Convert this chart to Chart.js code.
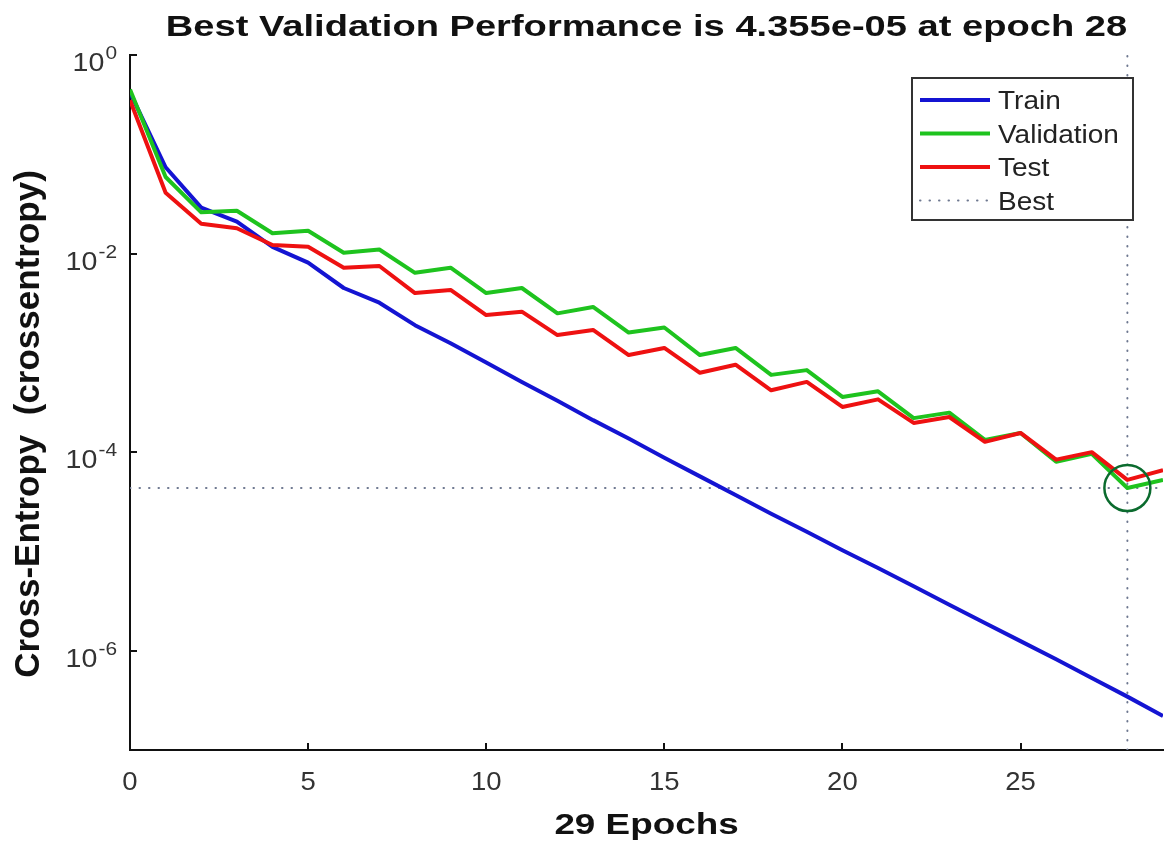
<!DOCTYPE html>
<html lang="en">
  <head>
    <meta charset="UTF-8" />
    <title>Best Validation Performance</title>
    <script src="https://cdn.jsdelivr.net/npm/chart.js"></script>
    <style>
      body {
        margin: 0;
        background: #ffffff;
      }
      #perfChart {
        display: block;
      }
    </style>
  </head>
  <body>
    <canvas id="perfChart" width="1170" height="846"></canvas>

    <script>
      // Cross-entropy per epoch
      var epochs = [
        0, 1, 2, 3, 4, 5, 6, 7, 8, 9, 10, 11, 12, 13, 14, 15, 16, 17, 18, 19,
        20, 21, 22, 23, 24, 25, 26, 27, 28, 29,
      ];
      var trainLoss = [
        0.42, 0.074, 0.029, 0.021, 0.0117, 0.0081, 0.0045, 0.0032, 0.0019,
        0.00125, 8.0e-4, 5.1e-4, 3.3e-4, 2.1e-4, 1.37e-4, 8.8e-5, 5.7e-5,
        3.7e-5, 2.4e-5, 1.58e-5, 1.03e-5, 6.8e-6, 4.45e-6, 2.9e-6, 1.9e-6,
        1.25e-6, 8.2e-7, 5.3e-7, 3.45e-7, 2.2e-7,
      ];
      var validationLoss = [
        0.45, 0.059, 0.026, 0.027, 0.016, 0.017, 0.0102, 0.011, 0.0064,
        0.0072, 0.004, 0.0045, 0.0025, 0.0029, 0.0016, 0.0018, 9.5e-4, 1.12e-3,
        6.0e-4, 6.7e-4, 3.6e-4, 4.1e-4, 2.2e-4, 2.5e-4, 1.33e-4, 1.56e-4,
        8.0e-5, 9.6e-5, 4.355e-5, 5.25e-5,
      ];
      var testLoss = [
        0.35, 0.041, 0.02, 0.018, 0.0122, 0.0117, 0.0072, 0.0075, 0.004,
        0.0043, 0.0024, 0.0026, 0.00151, 0.0017, 9.5e-4, 1.12e-3, 6.3e-4,
        7.6e-4, 4.2e-4, 5.1e-4, 2.85e-4, 3.4e-4, 1.97e-4, 2.26e-4, 1.27e-4,
        1.56e-4, 8.4e-5, 1.0e-4, 5.25e-5, 6.6e-5,
      ];
      var bestEpoch = 28;
      var bestValue = 4.355e-5;

      // axis ticks
      var xTicks = [0, 5, 10, 15, 20, 25];
      var yTickExponents = [0, -2, -4, -6];

      var seriesNames = ["Train", "Validation", "Test", "Best"];
      var seriesColors = ["#1414d2", "#1ec31e", "#ee1111", "#6e7890"];

      function points(values) {
        return epochs.map(function (e, i) {
          return { x: e, y: values[i] };
        });
      }

      // text drawn a little wider than the font, like the exported figure
      function wideText(ctx, text, x, y, sx, align) {
        ctx.save();
        ctx.translate(x, y);
        ctx.scale(sx, 1);
        ctx.textAlign = align;
        ctx.fillText(text, 0, 0);
        ctx.restore();
      }

      var figureDecor = {
        id: "figureDecor",
        afterDraw: function (chart) {
          var ctx = chart.ctx;
          var area = chart.chartArea;
          var xs = chart.scales.x;
          var ys = chart.scales.y;
          var midX = (area.left + area.right) / 2;

          ctx.save();

          // inward tick marks
          ctx.strokeStyle = "#111";
          ctx.lineWidth = 2;
          ctx.beginPath();
          xTicks.forEach(function (t) {
            var px = Math.round(xs.getPixelForValue(t));
            ctx.moveTo(px, area.bottom);
            ctx.lineTo(px, area.bottom - 7);
          });
          yTickExponents.forEach(function (e) {
            var py = Math.round(ys.getPixelForValue(Math.pow(10, e)));
            ctx.moveTo(area.left, py);
            ctx.lineTo(area.left + 7, py);
          });
          ctx.stroke();

          // x tick labels
          ctx.fillStyle = "#333";
          ctx.textBaseline = "alphabetic";
          ctx.font = "25px 'Liberation Sans', Arial, sans-serif";
          xTicks.forEach(function (t) {
            wideText(ctx, String(t), xs.getPixelForValue(t), area.bottom + 40, 1.1, "center");
          });

          // y tick labels, 10 with a raised exponent
          yTickExponents.forEach(function (e) {
            var py = ys.getPixelForValue(Math.pow(10, e));
            var right = area.left - 13;
            ctx.font = "19px 'Liberation Sans', Arial, sans-serif";
            var expText = String(e);
            var expW = ctx.measureText(expText).width * 1.1;
            wideText(ctx, expText, right, py + 4, 1.1, "right");
            ctx.font = "26px 'Liberation Sans', Arial, sans-serif";
            wideText(ctx, "10", right - expW - 1, py + 16, 1.1, "right");
          });

          // title and axis labels
          ctx.fillStyle = "#111";
          ctx.font = "bold 30px 'Liberation Sans', Arial, sans-serif";
          wideText(ctx, "Best Validation Performance is 4.355e-05 at epoch 28", midX, 36, 1.27, "center");
          ctx.font = "bold 29px 'Liberation Sans', Arial, sans-serif";
          wideText(ctx, "29 Epochs", midX, 834, 1.27, "center");

          ctx.save();
          ctx.translate(29, 424);
          ctx.rotate(-Math.PI / 2);
          ctx.font = "bold 35px 'Liberation Sans', Arial, sans-serif";
          ctx.textAlign = "center";
          ctx.textBaseline = "middle";
          ctx.fillText("Cross-Entropy  (crossentropy)", 0, 0);
          ctx.restore();

          // legend box
          var lx = area.right - 251;
          var ly = area.top + 23;
          var lw = 221;
          var lh = 142;
          ctx.fillStyle = "#fff";
          ctx.fillRect(lx, ly, lw, lh);
          ctx.strokeStyle = "#333";
          ctx.lineWidth = 2;
          ctx.strokeRect(lx, ly, lw, lh);

          ctx.font = "25px 'Liberation Sans', Arial, sans-serif";
          seriesNames.forEach(function (name, i) {
            var ry = ly + 22 + i * 33.5;
            ctx.beginPath();
            if (i === 3) {
              ctx.setLineDash([0.5, 9]);
              ctx.lineCap = "round";
              ctx.lineWidth = 2;
            } else {
              ctx.setLineDash([]);
              ctx.lineCap = "butt";
              ctx.lineWidth = 4;
            }
            ctx.strokeStyle = seriesColors[i];
            ctx.moveTo(lx + 8, ry);
            ctx.lineTo(lx + 78, ry);
            ctx.stroke();
            ctx.fillStyle = "#222";
            wideText(ctx, name, lx + 86, ry + 9, 1.12, "left");
          });
          ctx.setLineDash([]);

          ctx.restore();
        },
      };

      var lineStyle = {
        pointRadius: 0,
        borderWidth: 4,
        tension: 0,
        borderJoinStyle: "round",
        fill: false,
      };

      new Chart(document.getElementById("perfChart").getContext("2d"), {
        type: "line",
        data: {
          datasets: [
            Object.assign({ label: "Best", data: [{ x: 0, y: bestValue }, { x: 29, y: bestValue }], borderColor: seriesColors[3], order: 5 }, lineStyle, { borderWidth: 2, borderDash: [0.5, 9], borderCapStyle: "round" }),
            Object.assign({ label: "Best epoch", data: [{ x: bestEpoch, y: 1e-7 }, { x: bestEpoch, y: 1 }], borderColor: seriesColors[3], order: 5 }, lineStyle, { borderWidth: 2, borderDash: [0.5, 9], borderCapStyle: "round" }),
            Object.assign({ label: "Train", data: points(trainLoss), borderColor: seriesColors[0], order: 3 }, lineStyle),
            Object.assign({ label: "Validation", data: points(validationLoss), borderColor: seriesColors[1], order: 2 }, lineStyle),
            Object.assign({ label: "Test", data: points(testLoss), borderColor: seriesColors[2], order: 1 }, lineStyle),
            {
              label: "Best point",
              data: [{ x: bestEpoch, y: bestValue }],
              showLine: false,
              pointRadius: 23,
              pointBorderWidth: 2.5,
              pointBorderColor: "#0b6b2e",
              pointBackgroundColor: "rgba(0,0,0,0)",
              clip: false,
              order: 0,
            },
          ],
        },
        options: {
          responsive: false,
          animation: false,
          layout: {
            autoPadding: false,
            padding: { left: 0, top: 55, right: 7, bottom: 0 },
          },
          plugins: {
            legend: { display: false },
            tooltip: { enabled: false },
          },
          scales: {
            x: {
              type: "linear",
              min: 0,
              max: 29,
              grid: { display: false, drawTicks: false },
              border: { color: "#111", width: 2 },
              ticks: { display: false },
              afterFit: function (s) {
                s.height = 96;
              },
            },
            y: {
              type: "logarithmic",
              min: 1e-7,
              max: 1,
              grid: { display: false, drawTicks: false },
              border: { color: "#111", width: 2 },
              ticks: { display: false },
              afterFit: function (s) {
                s.width = 130;
              },
            },
          },
        },
        plugins: [figureDecor],
      });
    </script>
  </body>
</html>
